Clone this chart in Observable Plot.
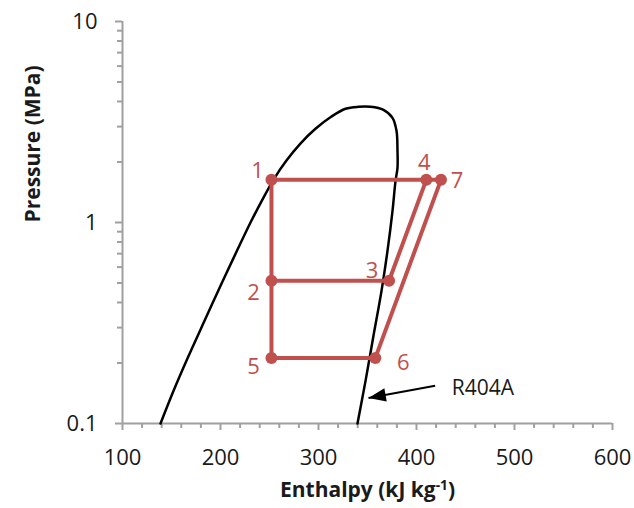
<!DOCTYPE html>
<html>
<head>
<meta charset="utf-8">
<script src="https://cdn.jsdelivr.net/npm/d3@7"></script>
<script src="https://cdn.jsdelivr.net/npm/@observablehq/plot@0.6"></script>
<style>
  html, body { margin: 0; padding: 0; background: #fff; }
  #chart svg { display: block; }
</style>
</head>
<body>
<div id="chart"></div>
<script>
// Saturation dome of R404A (enthalpy kJ/kg, pressure MPa)
const domeH = [138.8, 152.1, 166.6, 183.7, 202.4, 216.8, 231.0, 242.1, 254.0, 267.1, 281.3, 296.9, 312.9, 327.6, 340.8, 353.1, 366.3, 375.5, 379.6, 380.6, 380.6, 378.6, 375.5, 370.4, 364.3, 356.1, 348.0, 339.8];
const domeP = [0.100, 0.1455, 0.2123, 0.3243, 0.5129, 0.7232, 1.008, 1.282, 1.631, 2.028, 2.463, 2.926, 3.357, 3.679, 3.764, 3.764, 3.637, 3.318, 2.858, 2.274, 1.871, 1.612, 1.14, 0.723, 0.457, 0.273, 0.163, 0.100];

// Cycle state points
const stateName = ["1", "2", "3", "4", "5", "6", "7"];
const stateH = [252, 252, 372, 410, 252, 358, 425];
const stateP = [1.63, 0.513, 0.513, 1.63, 0.212, 0.212, 1.63];

// Cycle segments (from -> to)
const segFrom = ["1", "1", "2", "3", "5", "6"];
const segTo   = ["7", "5", "3", "4", "6", "7"];

// Annotation
const annotText = ["R404A"];
const arrowFromH = [419], arrowFromP = [0.154];
const arrowToH = [351], arrowToP = [0.134];
const annotH = [436], annotP = [0.1505];

// Axis ticks
const xMajor = [100, 200, 300, 400, 500, 600];
const xMinor = [120,140,160,180,220,240,260,280,320,340,360,380,420,440,460,480,520,540,560,580];
const yMajor = [0.1, 1, 10];
const yMinor = [0.2,0.3,0.4,0.5,0.6,0.7,0.8,0.9,2,3,4,5,6,7,8,9];

const xLabel = "Enthalpy (kJ kg-1)";
const yLabel = "Pressure (MPa)";

// Build tables
const dome = domeH.map((h, i) => ({h, p: domeP[i]}));
const states = stateName.map((n, i) => ({name: n, h: stateH[i], p: stateP[i]}));
const byName = Object.fromEntries(states.map(s => [s.name, s]));
const segs = segFrom.map((f, i) => ({a: byName[f], b: byName[segTo[i]]}));
const arrows = arrowFromH.map((h, i) => ({x1: h, y1: arrowFromP[i], x2: arrowToH[i], y2: arrowToP[i]}));
const annots = annotText.map((t, i) => ({t, h: annotH[i], p: annotP[i]}));

const RED = "#C0504D";
const AXIS = "#A0A0A0";
const FONT = "'Open Sans', 'Noto Sans', sans-serif";
const pick = names => states.filter(s => names.includes(s.name));

const chart = Plot.plot({
  width: 634,
  height: 508,
  marginLeft: 122,
  marginRight: 22,
  marginTop: 21,
  marginBottom: 85,
  style: {fontFamily: FONT, background: "#fff"},
  x: {domain: [100, 600]},
  y: {type: "log", domain: [0.1, 10]},
  marks: [
    // axis lines
    Plot.ruleX([100], {stroke: AXIS, strokeWidth: 2}),
    Plot.ruleY([0.1], {stroke: AXIS, strokeWidth: 2}),
    // minor ticks
    Plot.axisX({ticks: xMinor, tickSize: 5, tickFormat: () => "", stroke: AXIS, strokeWidth: 2, label: null}),
    Plot.axisY({ticks: yMinor, tickSize: 5, tickFormat: () => "", stroke: AXIS, strokeWidth: 2, label: null}),
    // major ticks
    Plot.axisX({ticks: xMajor, tickSize: 7, tickPadding: 19, tickFormat: d => String(d), stroke: AXIS, strokeWidth: 2,
                fill: "#1a1a1a", fontSize: 22, label: null}),
    Plot.axisY({ticks: yMajor, tickSize: 7, tickPadding: 18, tickFormat: d => String(d), stroke: AXIS, strokeWidth: 2,
                fill: "#1a1a1a", fontSize: 22, label: null}),
    // saturation dome
    Plot.line(dome, {x: "h", y: "p", stroke: "black", strokeWidth: 2.5, curve: "catmull-rom"}),
    // cycle
    Plot.link(segs, {x1: d => d.a.h, y1: d => d.a.p, x2: d => d.b.h, y2: d => d.b.p,
                     stroke: RED, strokeWidth: 4, strokeLinecap: "round"}),
    Plot.dot(states, {x: "h", y: "p", r: 6, fill: RED}),
    // point labels
    Plot.text(pick(["1"]), {x: "h", y: "p", text: "name", dx: -14, dy: -9, fill: RED, fontSize: 22}),
    Plot.text(pick(["2"]), {x: "h", y: "p", text: "name", dx: -18, dy: 12, fill: RED, fontSize: 22}),
    Plot.text(pick(["5"]), {x: "h", y: "p", text: "name", dx: -18, dy: 9, fill: RED, fontSize: 22}),
    Plot.text(pick(["3"]), {x: "h", y: "p", text: "name", dx: -17, dy: -10, fill: RED, fontSize: 22}),
    Plot.text(pick(["4"]), {x: "h", y: "p", text: "name", dx: -2, dy: -17, fill: RED, fontSize: 22}),
    Plot.text(pick(["7"]), {x: "h", y: "p", text: "name", dx: 16, dy: 1, fill: RED, fontSize: 22}),
    Plot.text(pick(["6"]), {x: "h", y: "p", text: "name", dx: 28, dy: 5, fill: RED, fontSize: 22}),
    // annotation arrow
    Plot.link(arrows, {x1: "x1", y1: "y1", x2: "x2", y2: "y2", stroke: "black", strokeWidth: 2,
                       markerEnd: "arrow"}),
    Plot.text(annots, {x: "h", y: "p", text: "t", textAnchor: "start", fill: "#1a1a1a", fontSize: 21}),
    // axis titles
    Plot.text([yLabel], {frameAnchor: "left", dx: -89, rotate: -90, fontWeight: "bold", fontSize: 21, fill: "#1a1a1a"}),
    Plot.text([xLabel], {frameAnchor: "bottom", dy: 73, fontWeight: "bold", fontSize: 21, fill: "#1a1a1a"})
  ]
});

// filled arrowhead
d3.select(chart).selectAll("marker")
  .attr("overflow", "visible")
  .attr("fill", "black")
  .attr("stroke", "none")
  .selectAll("path").attr("d", "M-13,-5L0,0L-13,5Z");

// superscript for the x label
d3.select(chart).selectAll("text").each(function () {
  if (this.textContent === xLabel) {
    const t = d3.select(this);
    t.text(null);
    t.append("tspan").text("Enthalpy (kJ kg");
    t.append("tspan").attr("dy", "-0.5em").attr("font-size", "0.65em").text("-1");
    t.append("tspan").attr("dy", "0.33em").text(")");
  }
});

document.getElementById("chart").appendChild(chart);
</script>
</body>
</html>
